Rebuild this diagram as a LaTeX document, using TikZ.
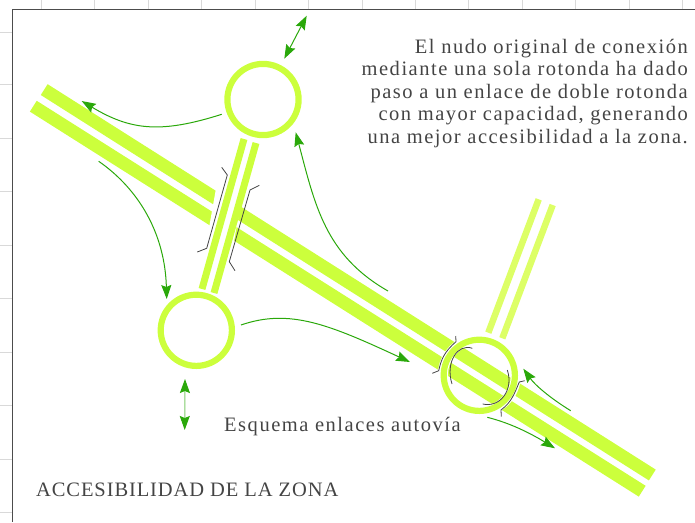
\documentclass[tikz,border=0pt]{standalone}
\usepackage{fontspec}
\setmainfont{Liberation Serif}[LetterSpace=4.4]
\newfontfamily\textolargo{Liberation Serif}[LetterSpace=7.4]
\usetikzlibrary{arrows.meta}
\definecolor{lima}{HTML}{CCFF3C}
\definecolor{limaclara}{HTML}{DDFF66}
\definecolor{flecha}{HTML}{2AA80A}
\definecolor{texto}{HTML}{444444}
\tikzset{
  calzada/.style={draw=lima,line width=12.8pt},
  ramal/.style={draw=lima,line width=7pt},
  rotonda/.style={circle,draw=lima,line width=6.2pt,minimum size=71.2pt,inner sep=0pt,outer sep=0pt},
  borde/.style={draw=texto,line width=0.8pt},
  giro/.style={draw=flecha,line width=1pt,-{Stealth[length=14pt,width=10pt,inset=2pt,color=flecha]}},
  doble/.style={draw=flecha,line width=1pt,{Stealth[length=14pt,width=10pt,inset=2pt,color=flecha]}-{Stealth[length=14pt,width=10pt,inset=2pt,color=flecha]}},
  rotulo/.style={text=texto,font=\fontsize{20.5pt}{22.5pt}\selectfont,inner sep=0pt},
  rotulolargo/.style={rotulo,font=\fontsize{20.5pt}{22.5pt}\textolargo}
}
\begin{document}
\begin{tikzpicture}[x=1pt,y=-1pt]
  \useasboundingbox (0,0) rectangle (695,522);
  % cuadricula
  \foreach \x in {41,94,148,201,255,308,362,415,468,522,575,629,682}
    \draw[black!15] (\x,0) -- (\x,9);
  \foreach \y in {32,84,138,191,245,298,352,405,459,512}
    \draw[black!15] (0,\y) -- (12,\y);
  \draw[black!70,line width=1pt] (695,9) -- (12,9) -- (12,522);
  % autovia
  \draw[calzada] (44.2,89.6) -- (652.3,475);
  \draw[calzada] (33.3,106.2) -- (642.2,491.2);
  % paso sobre la autovia
  \draw[white,line width=27pt] (233,170) -- (217,260);
  \draw[ramal] (244,139) -- (202,289);
  \draw[ramal] (256,143) -- (214,293);
  \draw[borde] (221.7,167.3) -- (227.3,175) -- (206.7,248.3) -- (197.3,252);
  \draw[borde] (259.3,185.3) -- (250,190) -- (229.3,261.7) -- (235,270.7);
  % ramal de la tercera rotonda
  \draw[white,line width=10pt] (479.3,375.3) circle (36.5);
  \draw[limaclara,line width=6.5pt] (538.7,199.3) -- (488.3,332.7);
  \draw[limaclara,line width=6.5pt] (552.7,205) -- (502.3,338.3);
  % rotondas
  \node[rotonda] (rotondaA) at (263,99.5) {};
  \node[rotonda] (rotondaB) at (196.3,330.3) {};
  \node[rotonda] (rotondaC) at (479.3,375.3) {};
  \draw[borde] (472.3,348.3) .. controls (458,343) and (445,362) .. (452,384);
  \draw[borde] (507.3,370) .. controls (514,390) and (500,408) .. (482.7,404);
  \draw[borde] (455.7,336) -- (456,341.7) .. controls (444,352) and (441,360) .. (438.7,370.7) -- (432.3,373.3);
  \draw[borde] (524.7,380.7) -- (519.3,382) .. controls (515,392) and (512,402) .. (501,410) -- (501.3,416.7);
  % flechas
  \draw[doble] (284.3,58.7) -- (306.7,15.7);
  \draw[doble,draw=flecha!60] (185,379) -- (184.7,430);
  \draw[giro] (221.7,114.3) .. controls (160,134) and (130,130) .. (81.7,101);
  \draw[giro] (98.7,161.3) .. controls (140,190) and (165,235) .. (166.7,299);
  \draw[giro] (388,291) .. controls (325,255) and (315,205) .. (295.7,132.3);
  \draw[giro] (241,325) .. controls (290,308) and (330,325) .. (410,362);
  \draw[giro] (570.7,410.7) .. controls (550,398) and (535,385) .. (523.3,368.7);
  \draw[giro] (487.3,417.3) .. controls (510,423) and (530,433) .. (555,448.3);
  % textos
  \node[rotulolargo,anchor=base east,align=right] (nota) at (688,143) {El nudo original de conexión\\mediante una sola rotonda ha dado\\paso a un enlace de doble rotonda\\con mayor capacidad, generando\\una mejor accesibilidad a la zona.};
  \node[rotulolargo,anchor=base west] (esquema) at (224,431) {Esquema enlaces autovía};
  \node[rotulo,anchor=base west] (titulo) at (36,496) {ACCESIBILIDAD DE LA ZONA};
\end{tikzpicture}
\end{document}
